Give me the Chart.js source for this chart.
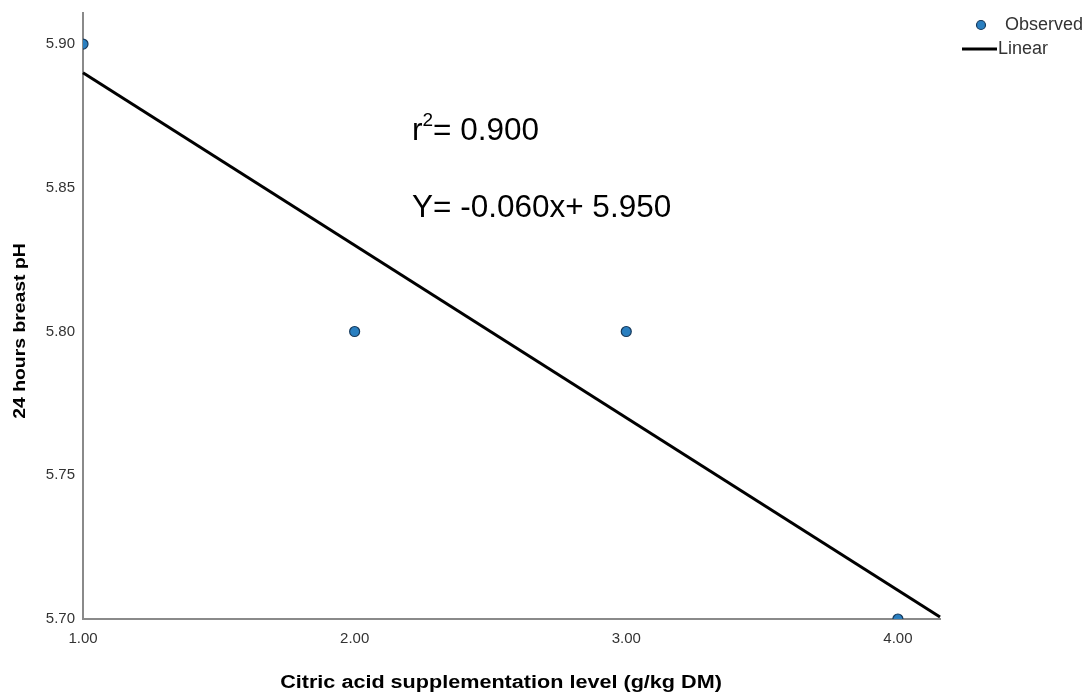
<!DOCTYPE html>
<html>
<head>
<meta charset="utf-8">
<style>
  html, body { margin: 0; padding: 0; background: #fff; }
  #wrap { position: relative; width: 1086px; height: 695px; }
</style>
<script src="https://cdn.jsdelivr.net/npm/chart.js@4/dist/chart.umd.min.js"></script>
</head>
<body>
<div id="wrap"><canvas id="c" width="1086" height="695"></canvas></div>
<script>
// Observed data
const levels = [1.00, 2.00, 3.00, 4.00];
const observedPH = [5.90, 5.80, 5.80, 5.70];
// Fitted linear line endpoints
const fitX = [1.00, 4.155];
const fitY = [5.890, 5.7007];
// Tick labels
const xTicks = [1, 2, 3, 4];
const yTicks = [5.70, 5.75, 5.80, 5.85, 5.90];
const xLabel = 'Citric acid supplementation level (g/kg DM)';
const yLabel = '24 hours breast pH';
const annotR2 = '= 0.900';
const annotEq = 'Y= -0.060x+ 5.950';
const legendLabels = ['Observed', 'Linear'];

const FONT = '"Liberation Sans", Arial, sans-serif';
const pointFill = '#2a7fc0';
const pointBorder = '#173a5c';

const overlay = {
  id: 'overlay',
  afterDraw(chart) {
    const ctx = chart.ctx;
    ctx.save();
    // axis titles (stretched along text direction like the reference)
    ctx.fillStyle = '#000';
    ctx.textAlign = 'center';
    ctx.textBaseline = 'middle';
    ctx.save();
    ctx.translate(501, 683);
    ctx.scale(1.2, 1);
    ctx.font = 'bold 18px ' + FONT;
    ctx.fillText(xLabel, 0, 0);
    ctx.restore();
    ctx.save();
    ctx.translate(20, 331);
    ctx.rotate(-Math.PI / 2);
    ctx.scale(1.14, 1);
    ctx.font = 'bold 17px ' + FONT;
    ctx.fillText(yLabel, 0, 0);
    ctx.restore();

    // annotations
    ctx.textAlign = 'left';
    ctx.textBaseline = 'alphabetic';
    ctx.font = '31.5px ' + FONT;
    ctx.fillText('r', 412, 140);
    const rw = ctx.measureText('r').width;
    ctx.font = '19px ' + FONT;
    ctx.fillText('2', 412 + rw, 126);
    const sw = ctx.measureText('2').width;
    ctx.font = '31.5px ' + FONT;
    ctx.fillText(annotR2, 412 + rw + sw, 140);
    ctx.fillText(annotEq, 412, 217);

    // legend
    ctx.font = '18px ' + FONT;
    ctx.fillStyle = '#333';
    ctx.textBaseline = 'middle';
    ctx.fillText(legendLabels[0], 1005, 25);
    ctx.fillText(legendLabels[1], 998, 49);
    ctx.beginPath();
    ctx.arc(981, 25, 4.5, 0, Math.PI * 2);
    ctx.fillStyle = pointFill;
    ctx.fill();
    ctx.lineWidth = 1.2;
    ctx.strokeStyle = pointBorder;
    ctx.stroke();
    ctx.beginPath();
    ctx.moveTo(962, 49);
    ctx.lineTo(997, 49);
    ctx.lineWidth = 3;
    ctx.strokeStyle = '#000';
    ctx.stroke();
    ctx.restore();
  }
};

new Chart(document.getElementById('c'), {
  type: 'scatter',
  data: {
    datasets: [
      {
        label: legendLabels[1],
        type: 'line',
        data: fitX.map((x, i) => ({ x: x, y: fitY[i] })),
        borderColor: '#000',
        borderWidth: 3,
        pointRadius: 0,
        fill: false,
        clip: false,
        order: 2
      },
      {
        label: legendLabels[0],
        data: levels.map((x, i) => ({ x: x, y: observedPH[i] })),
        backgroundColor: pointFill,
        borderColor: pointBorder,
        borderWidth: 1.2,
        pointRadius: 5,
        clip: 0,
        order: 1
      }
    ]
  },
  options: {
    responsive: false,
    animation: false,
    layout: { padding: { left: 0, right: 146, top: 13, bottom: 0 } },
    plugins: { legend: { display: false }, tooltip: { enabled: false } },
    scales: {
      x: {
        type: 'linear',
        min: 1,
        max: 4.155,
        afterBuildTicks: s => { s.ticks = xTicks.map(v => ({ value: v })); },
        afterFit: s => { s.height = 76; s.paddingLeft = 0; s.paddingRight = 0; },
        grid: { display: false, drawTicks: false },
        border: { display: true, color: '#8a8a8a', width: 2 },
        ticks: {
          padding: 11,
          color: '#333',
          font: { family: FONT, size: 15 },
          callback: v => Number(v).toFixed(2)
        }
      },
      y: {
        type: 'linear',
        min: 5.70,
        max: 5.9108,
        afterBuildTicks: s => { s.ticks = yTicks.map(v => ({ value: v })); },
        afterFit: s => { s.width = 83; s.paddingTop = 0; s.paddingBottom = 0; },
        grid: { display: false, drawTicks: false },
        border: { display: true, color: '#8a8a8a', width: 2 },
        ticks: {
          padding: 8,
          color: '#333',
          font: { family: FONT, size: 15 },
          callback: v => Number(v).toFixed(2)
        }
      }
    }
  },
  plugins: [overlay]
});
</script>
</body>
</html>
